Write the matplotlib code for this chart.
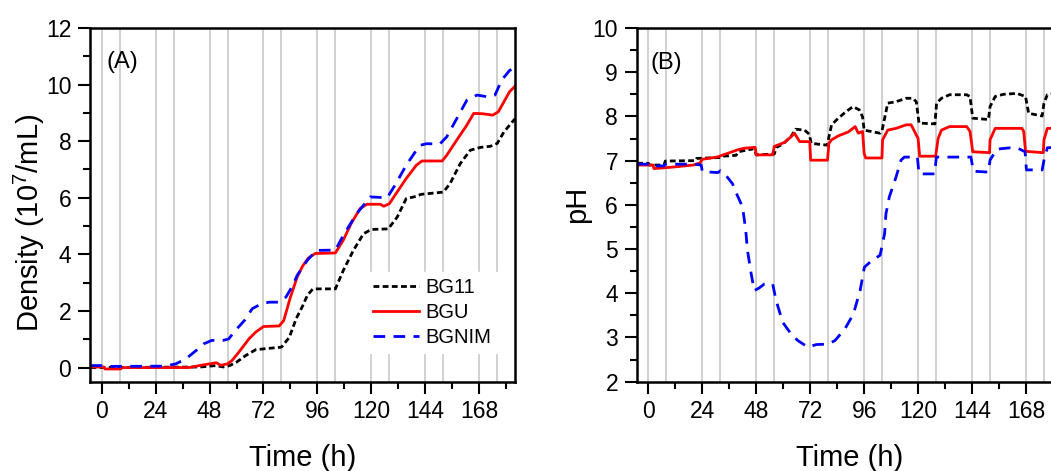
import numpy as np
import matplotlib
matplotlib.use("Agg")
import matplotlib.pyplot as plt
from matplotlib.ticker import MultipleLocator

plt.rcParams['font.family'] = 'Liberation Sans'
plt.rcParams['mathtext.fontset'] = 'custom'
plt.rcParams['mathtext.rm'] = 'Liberation Sans'
plt.rcParams['mathtext.default'] = 'regular'

# light/dark switching times (h)
switch_t = [0, 8, 24, 32, 48, 56, 72, 80, 96, 104, 120, 128, 144, 152, 168, 176]
names = ["BG11", "BGU", "BGNIM"]

# (A) cell density, 10^7 /mL
bg11_dens_t = [-5, 44, 48, 51, 54, 57, 60, 64, 68.5, 72, 80, 83.5, 86.5, 89.5, 91.5, 94, 104,
               107.5, 112, 116.5, 120, 127.5, 131.5, 135.5, 140, 142, 152, 155, 159.5, 164,
               168.5, 173, 176, 179, 184]
bg11_dens = [0, 0.02, 0.05, 0.07, 0.02, 0.07, 0.19, 0.42, 0.63, 0.66, 0.72, 1.07, 1.72, 2.19,
             2.55, 2.78, 2.78, 3.43, 4.14, 4.73, 4.88, 4.9, 5.32, 5.97, 6.05, 6.12, 6.2, 6.5,
             7.2, 7.68, 7.78, 7.82, 7.92, 8.33, 8.8]

bgu_dens_t = [-5, 1, 1.5, 8.5, 9, 39, 43.5, 48, 51, 53, 56, 58, 61, 65.5, 68.5, 72, 79, 81, 84,
              87, 89.5, 92, 95, 104, 107.5, 111, 115, 118, 124, 125.5, 128, 131, 135.5, 140,
              142.5, 151.5, 153.5, 158, 162.5, 165.5, 169.5, 174, 176.5, 181.5, 184]
bgu_dens = [0.02, 0.02, -0.05, -0.05, 0, 0, 0.07, 0.13, 0.17, 0.08, 0.13, 0.25, 0.54, 1.01,
            1.25, 1.45, 1.47, 1.66, 2.49, 3.2, 3.6, 3.87, 4.03, 4.05, 4.5, 5.09, 5.62, 5.77,
            5.77, 5.7, 5.79, 6.15, 6.68, 7.15, 7.3, 7.3, 7.5, 8.04, 8.57, 8.98, 8.97, 8.92,
            9.04, 9.75, 9.95]

bgnim_dens_t = [-5, 2, 3, 28, 33, 37.5, 42, 45.5, 49, 54, 56.5, 59.5, 63.5, 67, 71, 74.5, 79,
                82, 85, 87, 91.5, 95.5, 104, 107.5, 113.5, 119.5, 127, 130.5, 135.5, 141.5,
                144.5, 150.5, 153.5, 158, 162.5, 167, 171.5, 175, 178, 181.5, 184]
bgnim_dens = [0.07, 0.07, 0.04, 0.05, 0.13, 0.31, 0.6, 0.84, 0.96, 0.96, 1.01, 1.31, 1.66,
              2.08, 2.25, 2.31, 2.31, 2.49, 2.9, 3.26, 3.79, 4.14, 4.15, 4.67, 5.44, 6.03, 6.0,
              6.44, 7.15, 7.85, 7.91, 7.9, 8.15, 8.8, 9.45, 9.63, 9.57, 9.63, 10.16, 10.5, 10.6]

# (B) pH
bg11_ph_t = [-5, 0, 0.5, 7, 7.5, 21, 21.5, 32, 33, 39, 40, 47, 48, 56, 57, 60, 63.5, 65.5,
             69.5, 71.5, 72.5, 79.5, 80.7, 81.5, 84.5, 88, 91, 93.8, 95.3, 96, 103, 104, 106.5,
             110, 114.7, 117.7, 119.2, 120.4, 127.5, 128.2, 130.4, 134, 141.6, 143.1, 144.3,
             151.3, 152, 154.3, 158, 164, 167.8, 169.2, 175.2, 176, 177.5, 180.5, 184]
bg11_ph = [6.94, 6.94, 6.90, 6.90, 6.99, 7.0, 7.05, 7.07, 7.1, 7.12, 7.2, 7.27, 7.13, 7.15,
           7.3, 7.38, 7.55, 7.71, 7.69, 7.6, 7.39, 7.35, 7.62, 7.81, 7.96, 8.11, 8.22, 8.15,
           7.99, 7.69, 7.62, 7.69, 8.3, 8.33, 8.41, 8.41, 8.33, 7.85, 7.83, 8.3, 8.41, 8.49,
           8.49, 8.45, 7.96, 7.93, 8.22, 8.45, 8.5, 8.52, 8.45, 8.07, 8.01, 8.3, 8.49, 8.52, 8.55]

bgu_ph_t = [-5, 2, 2.5, 10, 14, 20, 23, 24, 30.5, 35, 39.5, 42.5, 47.5, 48, 55.3, 56, 60.5,
            63.5, 65, 67.3, 71.8, 72.2, 79.7, 80.3, 81.5, 84.5, 89, 92, 93.4, 95.3, 96, 96.7,
            103.9, 104.2, 106.5, 110.2, 114.7, 116.9, 118.4, 120, 120.7, 127.8, 128.9, 130.4,
            134, 141.6, 143.1, 144.3, 151.8, 152, 154.3, 166.2, 167, 167.8, 175.7, 176, 177.5, 184]
bgu_ph = [6.90, 6.90, 6.82, 6.85, 6.87, 6.9, 6.95, 7.03, 7.08, 7.16, 7.24, 7.28, 7.30, 7.13,
          7.13, 7.32, 7.41, 7.54, 7.62, 7.43, 7.43, 7.01, 7.01, 7.39, 7.47, 7.56, 7.65, 7.77,
          7.62, 7.66, 7.16, 7.06, 7.06, 7.47, 7.69, 7.73, 7.81, 7.81, 7.66, 7.5, 7.10, 7.10,
          7.5, 7.69, 7.77, 7.77, 7.66, 7.20, 7.18, 7.47, 7.73, 7.73, 7.66, 7.21, 7.18, 7.47,
          7.73, 7.73]

bgnim_ph_t = [-5, 0.5, 1, 7, 7.5, 20, 23.5, 24, 31, 32, 33.5, 37.4, 38.9, 41.9, 43.3, 44.1,
              45.6, 47.1, 49.3, 51.6, 55.3, 56.8, 59.8, 63.5, 66.5, 71, 74.7, 80, 83, 87.4,
              91.2, 94.2, 96.1, 99.4, 103.1, 105.1, 105.7, 107.2, 110.2, 112.4, 113.9, 119.7,
              120.4, 127.4, 128.1, 143.5, 144.6, 151.3, 152, 155, 161, 164, 167.6, 168.2, 175.2,
              176, 177.5, 184]
bgnim_ph = [6.92, 6.92, 6.88, 6.88, 6.92, 6.92, 6.90, 6.75, 6.73, 6.77, 6.73, 6.48, 6.29,
            5.95, 5.43, 4.97, 4.48, 4.06, 4.12, 4.21, 4.21, 3.84, 3.34, 3.08, 2.93, 2.78, 2.84,
            2.85, 2.93, 3.19, 3.53, 4.06, 4.59, 4.74, 4.86, 5.35, 5.80, 6.18, 6.63, 7.01, 7.08,
            7.08, 6.70, 6.70, 7.08, 7.08, 6.76, 6.74, 7.01, 7.26, 7.29, 7.29, 7.2, 6.79, 6.79,
            7.01, 7.29, 7.31]

styles = [dict(color="black", lw=2.0, dashes=(2.1, 1.2)),
          dict(color="#ff0000", lw=2.0),
          dict(color="#0000ff", lw=2.0, dashes=(4.2, 3.0))]

fig = plt.figure(figsize=(10.51, 4.71), dpi=100)
ax1 = fig.add_axes([0.0856, 0.1896, 0.4044, 0.751])
ax2 = fig.add_axes([0.6058, 0.1896, 0.4044, 0.751])


def setup(ax, ylim, ymaj, ymin):
    for s in switch_t:
        ax.axvline(s, color="#c8c8c8", lw=1.2, zorder=0.5)
    ax.set_xlim(-5.2, 183.9)
    ax.set_ylim(*ylim)
    ax.xaxis.set_major_locator(MultipleLocator(24))
    ax.xaxis.set_minor_locator(MultipleLocator(12))
    ax.yaxis.set_major_locator(MultipleLocator(ymaj))
    ax.yaxis.set_minor_locator(MultipleLocator(ymin))
    ax.tick_params(which="major", direction="out", length=8.4, width=1.5, labelsize=16.5, pad=5)
    ax.tick_params(which="minor", direction="out", length=5, width=1.5)
    for sp in ax.spines.values():
        sp.set_linewidth(1.8)
    ax.set_xlabel("Time (h)", fontsize=21, labelpad=15)


setup(ax1, (-0.5, 12), 2, 1)
setup(ax2, (2, 10), 1, 0.5)

dens = [(bg11_dens_t, bg11_dens), (bgu_dens_t, bgu_dens), (bgnim_dens_t, bgnim_dens)]
ph = [(bg11_ph_t, bg11_ph), (bgu_ph_t, bgu_ph), (bgnim_ph_t, bgnim_ph)]
for name, st, (t, v) in zip(names, styles, dens):
    ax1.plot(t, v, label=name, **st)
for name, st, (t, v) in zip(names, styles, ph):
    ax2.plot(t, v, label=name, **st)

ax1.set_ylabel("Density (10$^7$/mL)", fontsize=21, labelpad=-1)
ax1.yaxis.label.set_y(0.45)
ax2.set_ylabel("pH", fontsize=21, labelpad=1)
ax1.text(0.039, 0.905, "(A)", transform=ax1.transAxes, fontsize=17, va="center")
ax2.text(0.033, 0.90, "(B)", transform=ax2.transAxes, fontsize=17, va="center")

leg = ax1.legend(loc="lower left", bbox_to_anchor=(0.652, 0.081), borderaxespad=0,
                 fontsize=14.5, handlelength=2.3, handletextpad=0.3, labelspacing=0.3,
                 borderpad=0.3, fancybox=False, framealpha=1, edgecolor="white")

fig.savefig("out.png", dpi=100)
